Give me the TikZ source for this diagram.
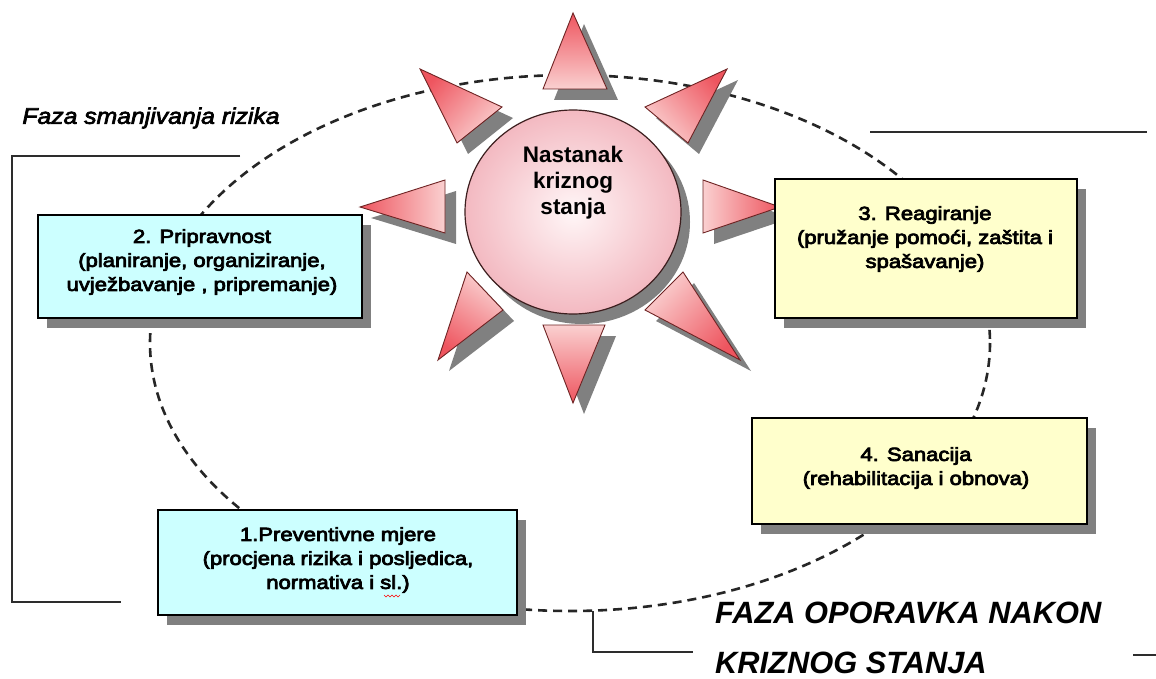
\documentclass[tikz,border=0pt]{standalone}
\usepackage{fontspec}
\setmainfont{Liberation Sans}
\newfontfamily\boxfont[FakeStretch=1.16,FakeBold=4]{Liberation Sans}
\newfontfamily\labfont[FakeStretch=1.1,FakeBold=3]{Liberation Sans}
\usetikzlibrary{shapes.geometric,shadows}
\definecolor{shadowgray}{RGB}{128,128,128}
\definecolor{rayred}{RGB}{238,85,95}
\definecolor{raypink}{RGB}{250,208,208}
\definecolor{raybord}{RGB}{110,35,35}
\definecolor{circin}{RGB}{255,246,247}
\definecolor{circout}{RGB}{243,185,193}
\definecolor{circbord}{RGB}{60,30,30}
\definecolor{cyanfill}{RGB}{204,255,255}
\definecolor{yelfill}{RGB}{255,255,204}
\definecolor{bracketgray}{RGB}{45,45,45}
\begin{document}
\begin{tikzpicture}[x=1pt,y=-1pt,
  shd/.style={drop shadow={shadow xshift=9pt,shadow yshift=-10pt,fill=shadowgray,opacity=1}},
  rshd/.style={drop shadow={shadow xshift=11pt,shadow yshift=-11pt,fill=shadowgray,opacity=1}},
  ray/.style={draw=raybord,line width=0.9pt,line join=miter,top color=rayred,bottom color=raypink,rshd},
  cbox/.style={draw=black,line width=1.8pt,fill=cyanfill,shd,inner sep=0pt},
  ybox/.style={draw=black,line width=1.8pt,fill=yelfill,shd,inner sep=0pt},
  btxt/.style={font=\boxfont\fontsize{19}{24}\selectfont,align=center,inner sep=0pt},
  bracket/.style={draw=bracketgray,line width=1.8pt},
  orbit/.style={draw=black!85,line width=2.6pt,dash pattern=on 9pt off 6pt},
  bigtxt/.style={font=\bfseries\itshape\fontsize{30.8}{36}\selectfont,inner sep=0pt,anchor=west}
]
\useasboundingbox (0,0) rectangle (1156,679);
\fill[white] (0,0) rectangle (1156,679);

% dashed orbit
\draw[orbit] (570,343) ellipse [x radius=420, y radius=268];

% brackets and rules
\draw[bracket] (240,156) -- (12,156) -- (12,602) -- (121,602);
\draw[bracket] (870,132) -- (1147,132);
\draw[bracket] (593,611) -- (593,652) -- (693,652);
\draw[bracket] (1133,655) -- (1156,655);

% rays
\path[ray,shading angle=0]    (573,13)  -- (543,89)  -- (607,89)  -- cycle;
\path[ray,shading angle=-47]  (727,69)  -- (645,107) -- (688,143) -- cycle;
\path[ray,shading angle=-90]  (780,207) -- (703,180) -- (703,233) -- cycle;
\path[ray,shading angle=-133] (740,360) -- (683,272) -- (645,310) -- cycle;
\path[ray,shading angle=180]  (573,403) -- (543,325) -- (605,325) -- cycle;
\path[ray,shading angle=146]  (438,360) -- (467,272) -- (503,310) -- cycle;
\path[ray,shading angle=90]   (360,207) -- (445,180) -- (445,233) -- cycle;
\path[ray,shading angle=47]   (420,69)  -- (502,107) -- (457,143) -- cycle;

% centre
\node[ellipse,draw=circbord,line width=1.2pt,minimum width=216pt,minimum height=204pt,
      inner color=circin,outer color=circout,shd] (sun) at (573,212) {};
\node[font=\bfseries\fontsize{22.5}{26}\selectfont,align=center,inner sep=0pt] (suntxt) at (573,183)
  {Nastanak\\kriznog\\stanja};

% boxes
\node[cbox,minimum width=324pt,minimum height=103pt] (b2) at (200,266.5) {};
\node[btxt] (t2) at (202,262) {2. Pripravnost\\(planiranje, organiziranje,\\uvježbavanje , pripremanje)};

\node[ybox,minimum width=302pt,minimum height=139pt] (b3) at (926,248.5) {};
\node[btxt] (t3) at (925,239) {3. Reagiranje\\(pružanje pomoći, zaštita i\\spašavanje)};

\node[ybox,minimum width=335pt,minimum height=106pt] (b4) at (919.5,471) {};
\node[btxt] (t4) at (916,468) {4. Sanacija\\(rehabilitacija i obnova)};

\node[cbox,minimum width=359pt,minimum height=105pt] (b1) at (337.5,562.5) {};
\node[btxt] (t1) at (338,560) {1.Preventivne mjere\\(procjena rizika i posljedica,\\normativa i sl.)};
\draw[red,line width=0.6pt] (384,595) -- (386,597) -- (388,595) -- (390,597) -- (392,595) -- (394,597) -- (396,595) -- (398,597) -- (400,595);

% labels
\node[font=\labfont\itshape\fontsize{22.5}{26}\selectfont,inner sep=0pt] (faza1) at (151,118) {Faza smanjivanja rizika};
\node[bigtxt] (faza2a) at (715,613) {FAZA OPORAVKA NAKON};
\node[bigtxt] (faza2b) at (715,663) {KRIZNOG STANJA};
\end{tikzpicture}
\end{document}
